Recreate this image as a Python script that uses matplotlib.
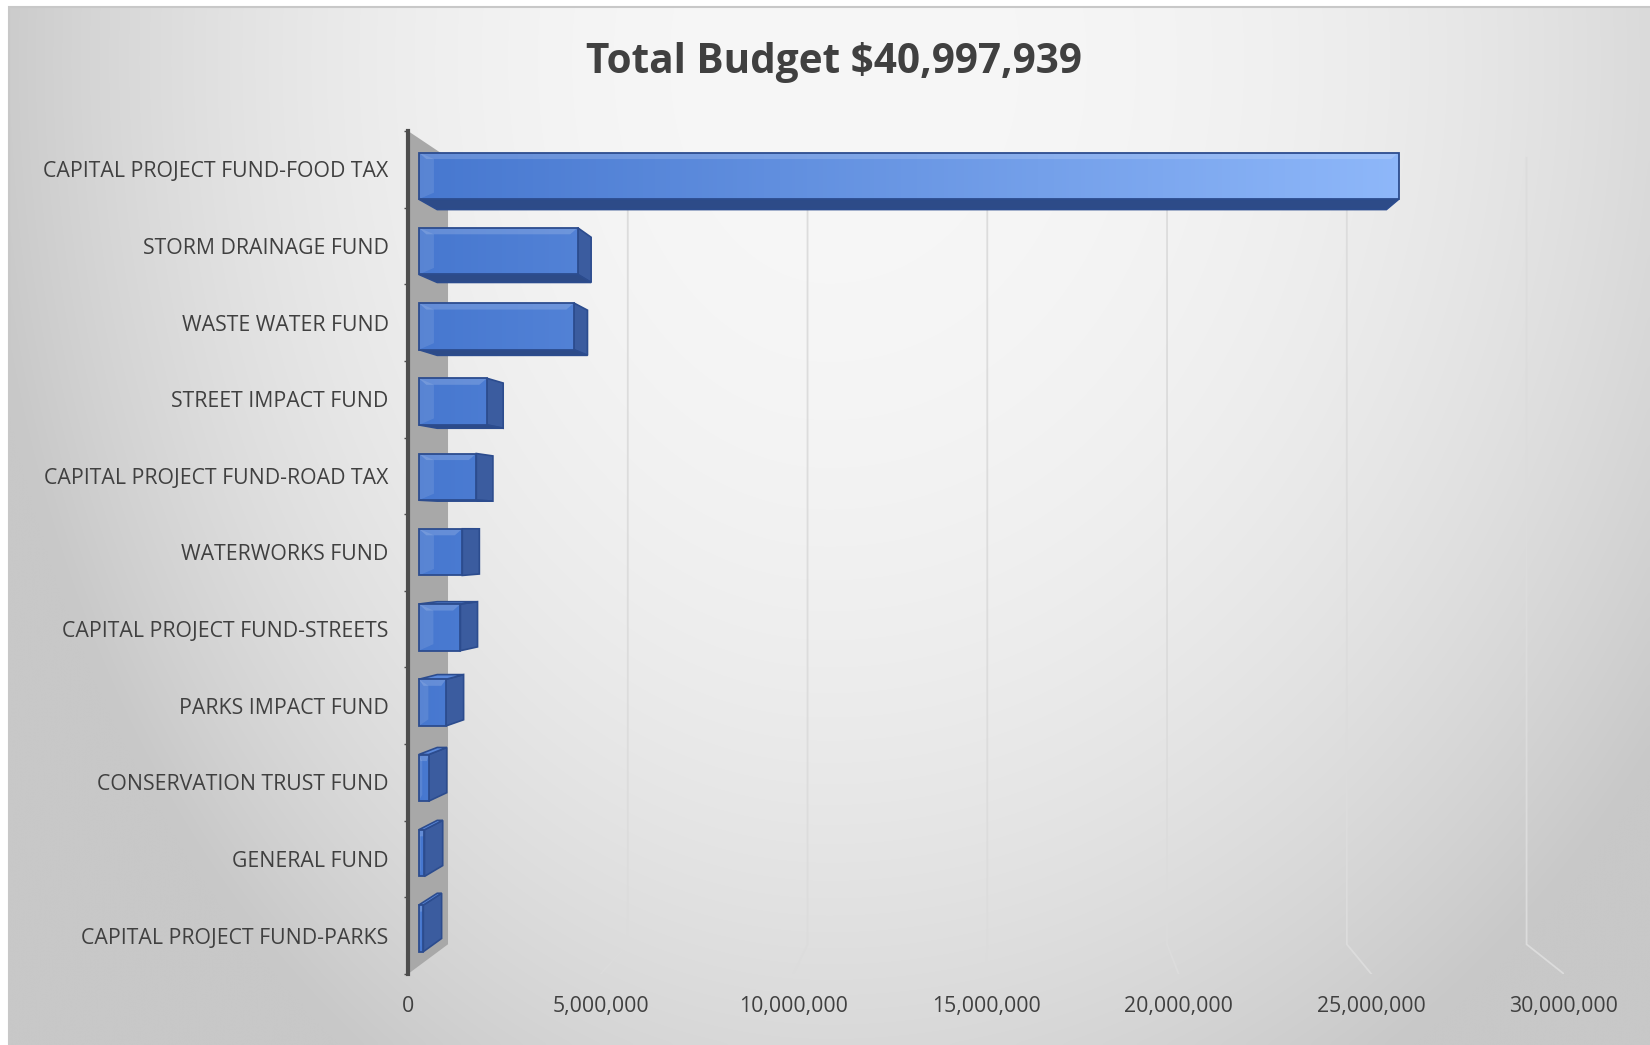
import numpy as np
import matplotlib.pyplot as plt
from matplotlib.patches import Polygon, Rectangle
from matplotlib.ticker import FuncFormatter
from matplotlib.colors import LinearSegmentedColormap

plt.rcParams["font.family"] = ["Open Sans", "DejaVu Sans"]

# --------------------------------------------------------------------------- #
# Data
# --------------------------------------------------------------------------- #
funds = [
    "CAPITAL PROJECT FUND-FOOD TAX",
    "STORM DRAINAGE FUND",
    "WASTE WATER FUND",
    "STREET IMPACT FUND",
    "CAPITAL PROJECT FUND-ROAD TAX",
    "WATERWORKS FUND",
    "CAPITAL PROJECT FUND-STREETS",
    "PARKS IMPACT FUND",
    "CONSERVATION TRUST FUND",
    "GENERAL FUND",
    "CAPITAL PROJECT FUND-PARKS",
]
budgets = [25_900_000, 4_200_000, 4_100_000, 1_800_000, 1_520_000, 1_150_000,
           1_100_000, 720_000, 260_000, 150_000, 120_000]
x_ticks = [0, 5_000_000, 10_000_000, 15_000_000, 20_000_000, 25_000_000, 30_000_000]
title = "Total Budget $40,997,939"

# --------------------------------------------------------------------------- #
# Perspective helpers (front plane = axes data space)
# --------------------------------------------------------------------------- #
VX, VY = 15.5e6, 5.21       # vanishing point in data units
SHRINK = 0.067              # scale loss from front (d=0) to back wall (d=1)
D0, D1 = 0.27, 0.73         # bar depth range
BAR_H = 0.62
N = len(funds)
XMAX = x_ticks[-1]


def proj(x, y, d):
    s = 1 - SHRINK * d
    return VX + s * (x - VX), VY + s * (y - VY)


def face(pts):
    return [proj(*p) for p in pts]


W, H = 1650, 1045
fig = plt.figure(figsize=(W / 100, H / 100), dpi=100, facecolor="white")

# background gradient
bg = fig.add_axes([9 / W, 0, 1 - 9 / W, 1 - 7 / H], zorder=-10)
gx, gy = np.meshgrid(np.linspace(0, 1, 400), np.linspace(0, 1, 260))
rx = np.where(gx < 0.5, 0.52, 0.62)
r = np.clip(np.sqrt(((gx - 0.5) / rx) ** 2 + ((gy - 0.05) / 1.15) ** 2), 0, 1)
shade = (247 - (247 - 200) * r ** 2.3) / 255
bg.imshow(np.dstack([shade] * 3), aspect="auto", extent=(0, 1, 1, 0), interpolation="bicubic")
bg.set_axis_off()
fig.patches.append(Rectangle((8.5 / W, -0.01), 1.1, 1 - 6.5 / H + 0.01, transform=fig.transFigure,
                             fill=False, edgecolor="#c8c8c8", linewidth=1.5))

ax = fig.add_axes([408 / W, 71 / H, 1156 / W, 843 / H])
ax.set_facecolor("none")

# back wall gridlines + floor segments
for gv in x_ticks[1:]:
    (xa, ya), (xb, yb), (xc, yc) = face([(gv, 0, 1), (gv, N, 1), (gv, N, 0)])
    ax.plot([xa, xb, xc], [ya, yb, yc], color="#dcdcdc", linewidth=1.3, zorder=1,
            solid_joinstyle="miter")

# side wall at x = 0
ax.add_patch(Polygon(face([(0, 0, 0), (0, 0, 1), (0, N, 1), (0, N, 0)]),
                     closed=True, facecolor="#a8a8a8", edgecolor="none", zorder=2))

# bars
cmap = LinearSegmentedColormap.from_list("bar", ["#4677cf", "#8fb8fa"])
grad = np.linspace(0, 1, 256).reshape(1, -1)
edge = "#2c4c8e"
for i, v in enumerate(budgets):
    y0 = i + 0.5 - BAR_H / 2
    y1 = i + 0.5 + BAR_H / 2
    if v < VX:
        ax.add_patch(Polygon(face([(v, y0, D0), (v, y0, D1), (v, y1, D1), (v, y1, D0)]),
                             facecolor="#3b5c9f", edgecolor=edge, linewidth=1.2, zorder=3))
    if y1 < VY:
        ax.add_patch(Polygon(face([(0, y1, D0), (v, y1, D0), (v, y1, D1), (0, y1, D1)]),
                             facecolor="#2d4b88", edgecolor=edge, linewidth=1.2, zorder=3))
    if y0 > VY:
        ax.add_patch(Polygon(face([(0, y0, D0), (v, y0, D0), (v, y0, D1), (0, y0, D1)]),
                             facecolor="#5a88da", edgecolor=edge, linewidth=1.2, zorder=3))
    front = Polygon(face([(0, y0, D0), (v, y0, D0), (v, y1, D0), (0, y1, D0)]),
                    facecolor="none", edgecolor=edge, linewidth=1.3, zorder=6)
    ax.add_patch(front)
    im = ax.imshow(grad, cmap=cmap, aspect="auto", extent=(0, 26e6, N, 0),
                   vmin=0, vmax=1, zorder=4)
    im.set_clip_path(front)
    # bevel highlights on the front face
    bx = min(0.4e6, v * 0.35)
    bh = BAR_H * 0.14
    ax.add_patch(Polygon(face([(0, y0, D0), (v, y0, D0), (v - bx * 0.5, y0 + bh, D0),
                               (bx * 0.5, y0 + bh, D0)]),
                         facecolor="white", alpha=0.16, edgecolor="none", zorder=5))
    ax.add_patch(Polygon(face([(0, y0, D0), (bx, y0 + bh, D0), (bx, y1 - bh, D0), (0, y1, D0)]),
                         facecolor="white", alpha=0.10, edgecolor="none", zorder=5))

ax.set_xlim(0, XMAX)
ax.set_ylim(N, 0)

# axes styling
for side in ["top", "right", "bottom"]:
    ax.spines[side].set_visible(False)
ax.spines["left"].set_color("#4d4d4d")
ax.spines["left"].set_linewidth(3)
ax.spines["left"].set_zorder(7)

ax.set_xticks(x_ticks)
ax.xaxis.set_major_formatter(FuncFormatter(lambda x, _: f"{x:,.0f}"))
ax.tick_params(axis="x", length=0, pad=16, labelsize=15.3, labelcolor="#404040")

ax.set_yticks(np.arange(N) + 0.5)
ax.set_yticklabels(funds)
ax.set_yticks(np.arange(N + 1), minor=True)
ax.tick_params(axis="y", which="major", length=0, pad=14, labelsize=15.3, labelcolor="#404040")
ax.tick_params(axis="y", which="minor", length=3, width=1, color="#4d4d4d")

fig.text(834 / W, 1 - 73 / H, title, ha="center", va="baseline",
         fontsize=29.2, fontweight="bold", color="#404040")

fig.savefig("out.png", dpi=100, facecolor="white")
